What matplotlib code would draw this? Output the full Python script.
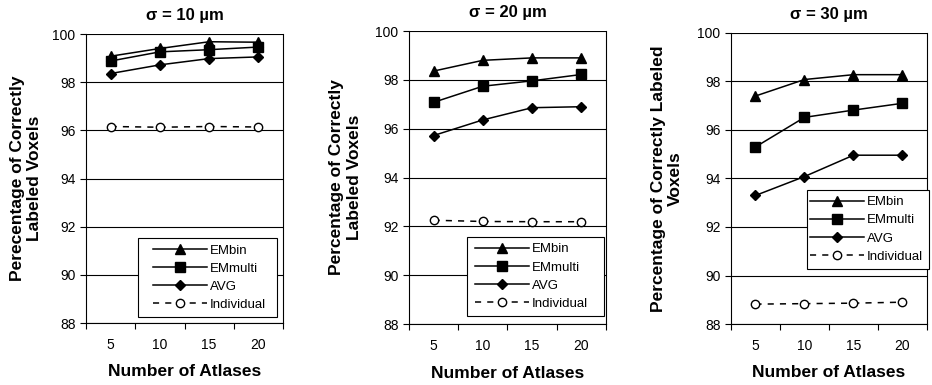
import matplotlib
matplotlib.use("Agg")
import matplotlib.pyplot as plt
from matplotlib.patches import Rectangle
import numpy as np

plt.rcParams["font.family"] = ["Liberation Sans", "DejaVu Sans"]

atlases = ["5", "10", "15", "20"]
series_names = ["EMbin", "EMmulti", "AVG", "Individual"]

titles = ["σ = 10 µm", "σ = 20 µm", "σ = 30 µm"]
ylabels = ["Perecentage of Correctly\nLabeled Voxels",
           "Percentage of Correctly\nLabeled Voxels",
           "Percentage of Correctly Labeled\nVoxels"]

# sigma = 10
emb_10 = [99.08, 99.40, 99.68, 99.66]
emm_10 = [98.88, 99.26, 99.35, 99.46]
avg_10 = [98.36, 98.72, 98.98, 99.05]
ind_10 = [96.16, 96.13, 96.16, 96.14]
# sigma = 20
emb_20 = [98.36, 98.80, 98.90, 98.90]
emm_20 = [97.08, 97.74, 97.96, 98.22]
avg_20 = [95.72, 96.36, 96.86, 96.90]
ind_20 = [92.25, 92.20, 92.19, 92.19]
# sigma = 30
emb_30 = [97.40, 98.08, 98.28, 98.28]
emm_30 = [95.30, 96.52, 96.82, 97.10]
avg_30 = [93.30, 94.08, 94.96, 94.96]
ind_30 = [88.82, 88.84, 88.86, 88.90]

panels = [
    (emb_10, emm_10, avg_10, ind_10),
    (emb_20, emm_20, avg_20, ind_20),
    (emb_30, emm_30, avg_30, ind_30),
]

axes_rects = [
    (0.0923, 0.161, 0.2114, 0.7506),
    (0.4388, 0.1584, 0.2114, 0.761),
    (0.7843, 0.1584, 0.2103, 0.756),
]
# legend frame (axes fraction) and where the handles start
legend_box = [(0.264, 0.021, 0.706, 0.273),
              (0.294, 0.027, 0.695, 0.270),
              (0.388, 0.189, 0.622, 0.271)]
legend_anchor = [(0.340, 0.157), (0.335, 0.162), (0.403, 0.325)]
ylabel_x = [-0.223, -0.239, -0.245]

styles = [
    dict(marker="^", ls="-", mfc="black", ms=7),
    dict(marker="s", ls="-", mfc="black", ms=6.5),
    dict(marker="D", ls="-", mfc="black", ms=5.5),
    dict(marker="o", ls=(0, (4, 4)), mfc="white", ms=6),
]

fig = plt.figure(figsize=(9.32, 3.85), dpi=100)
fig.patch.set_facecolor("white")

x = np.arange(len(atlases)) + 0.5
for i, data in enumerate(panels):
    ax = fig.add_axes(axes_rects[i])
    for name, vals, st in zip(series_names, data, styles):
        ax.plot(x, vals, color="black", lw=1.1, marker=st["marker"],
                ls=st["ls"], mfc=st["mfc"], mec="black", mew=1.0,
                ms=st["ms"], label=name, zorder=3)
    ax.set_xlim(0, 4)
    ax.set_ylim(88, 100)
    ax.set_yticks(np.arange(88, 101, 2))
    ax.set_xticks(np.arange(0, 5))
    ax.set_xticklabels([])
    ax.set_xticks(x, minor=True)
    ax.set_xticklabels(atlases, minor=True)
    ax.tick_params(axis="x", which="minor", length=0, pad=11, labelsize=10)
    ax.tick_params(axis="x", which="major", length=4, width=0.8, direction="out")
    ax.tick_params(axis="y", length=4, width=0.8, direction="out", labelsize=10)
    ax.grid(axis="y", color="black", lw=0.8)
    ax.set_axisbelow(True)
    for s in ax.spines.values():
        s.set_linewidth(0.8)
        s.set_color("black")
    ax.spines["top"].set_visible(False)
    ax.set_title(titles[i], fontsize=12, fontweight="bold", pad=10)
    ax.set_xlabel("Number of Atlases", fontsize=12.5, fontweight="bold")
    ax.xaxis.set_label_coords(0.5, -0.142)
    ax.set_ylabel(ylabels[i], fontsize=12.5, fontweight="bold")
    ax.yaxis.set_label_coords(ylabel_x[i], 0.5)

    bx, by, bw, bh = legend_box[i]
    ax.add_patch(Rectangle((bx, by), bw, bh, transform=ax.transAxes,
                           facecolor="white", edgecolor="black", lw=0.8,
                           clip_on=False, zorder=4.5))
    leg = ax.legend(loc="center left", bbox_to_anchor=legend_anchor[i],
                    fontsize=9.5, handlelength=4.1, labelspacing=0.45,
                    handletextpad=0.2, borderpad=0, frameon=False,
                    borderaxespad=0)
    leg.set_zorder(5)

fig.savefig("out.png", dpi=100, facecolor="white")
